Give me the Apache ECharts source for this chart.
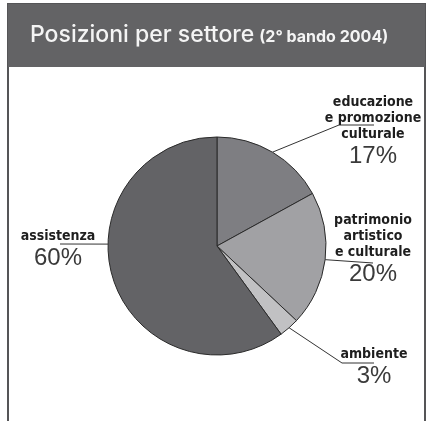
<!DOCTYPE html>
<html>
<head>
<meta charset="utf-8">
<script src="https://cdn.jsdelivr.net/npm/echarts@6/dist/echarts.min.js"></script>
<style>
html,body{margin:0;padding:0;background:#fff;}
#c{width:427px;height:421px;}
</style>
</head>
<body>
<div id="c"></div>
<script>
// ---- data ----
const categories = ['educazione\ne promozione\nculturale', 'patrimonio\nartistico\ne culturale', 'ambiente', 'assistenza'];
const values = [17, 20, 3, 60];
const colors = ['#7e7e82', '#a1a1a4', '#c1c1c3', '#636366'];
const titleMain = 'Posizioni per settore';
const titleSub = '(2° bando 2004)';

// ---- layout ----
const CX = 217, CY = 246, R = 109;
const labelLayouts = [
  {x: 373, y: 94, pts: [[339, 125], [374, 125]], ang: null},
  {x: 373, y: 212, pts: [[373, 263]], ang: null},
  {x: 374, y: 346, pts: [[342, 363], [374, 363]], ang: null},
  {x: 58, y: 228, pts: [[60, 244]], ang: 271}
];

const total = values.reduce((a, b) => a + b, 0);
function midAngle(i) {
  let s = 0;
  for (let k = 0; k < i; k++) s += values[k];
  return (s + values[i] / 2) / total * 360;
}

const chart = echarts.init(document.getElementById('c'), null, {renderer: 'canvas'});
const narrow = '"Liberation Sans Narrow", "Arial Narrow", "DejaVu Sans Condensed", sans-serif';

chart.setOption({
  animation: false,
  graphic: [
    {type: 'rect', shape: {x: 8, y: 4, width: 417, height: 440}, style: {fill: '#fff', stroke: '#555557', lineWidth: 2}, z: 0},
    {type: 'rect', shape: {x: 8, y: 4, width: 417, height: 63}, style: {fill: '#636365'}, z: 1}
  ],
  title: {
    text: '{a|' + titleMain + '} {b|' + titleSub + '}',
    left: 25, top: 19,
    textStyle: {
      rich: {
        a: {fontFamily: 'Inter, Arial, sans-serif', fontSize: 23, fontWeight: 500, color: '#f4f4f4'},
        b: {fontFamily: 'Inter, Arial, sans-serif', fontSize: 16, fontWeight: 'bold', color: '#f4f4f4', padding: [3, 0, 0, 0]}
      }
    },
    z: 5
  },
  series: [{
    type: 'pie',
    center: [CX, CY],
    radius: R,
    startAngle: 90,
    clockwise: true,
    silent: true,
    data: categories.map((n, i) => ({name: n, value: values[i], itemStyle: {color: colors[i]}})),
    itemStyle: {borderColor: '#2b2b2b', borderWidth: 1},
    label: {
      show: true,
      overflow: 'none',
      width: 200,
      align: 'center',
      formatter: p => '{n|' + p.name.split('\n').join('}\n{n|') + '}\n{v|' + p.value + '%}',
      rich: {
        n: {fontFamily: narrow, fontWeight: 'bold', fontSize: 14, lineHeight: 16, color: '#1e1e1e', align: 'center'},
        v: {fontFamily: 'Liberation Sans, Arial, sans-serif', fontSize: 24, lineHeight: 28, color: '#3a3a3a', align: 'center'}
      }
    },
    labelLine: {show: true, lineStyle: {color: '#333', width: 1}},
    labelLayout: function (params) {
      const L = labelLayouts[params.dataIndex];
      const a = (L.ang === null ? midAngle(params.dataIndex) : L.ang) * Math.PI / 180;
      const start = [CX + R * Math.sin(a), CY - R * Math.cos(a)];
      return {
        x: L.x, y: L.y, align: 'center', verticalAlign: 'top',
        labelLinePoints: [start].concat(L.pts)
      };
    }
  }]
});
</script>
</body>
</html>
